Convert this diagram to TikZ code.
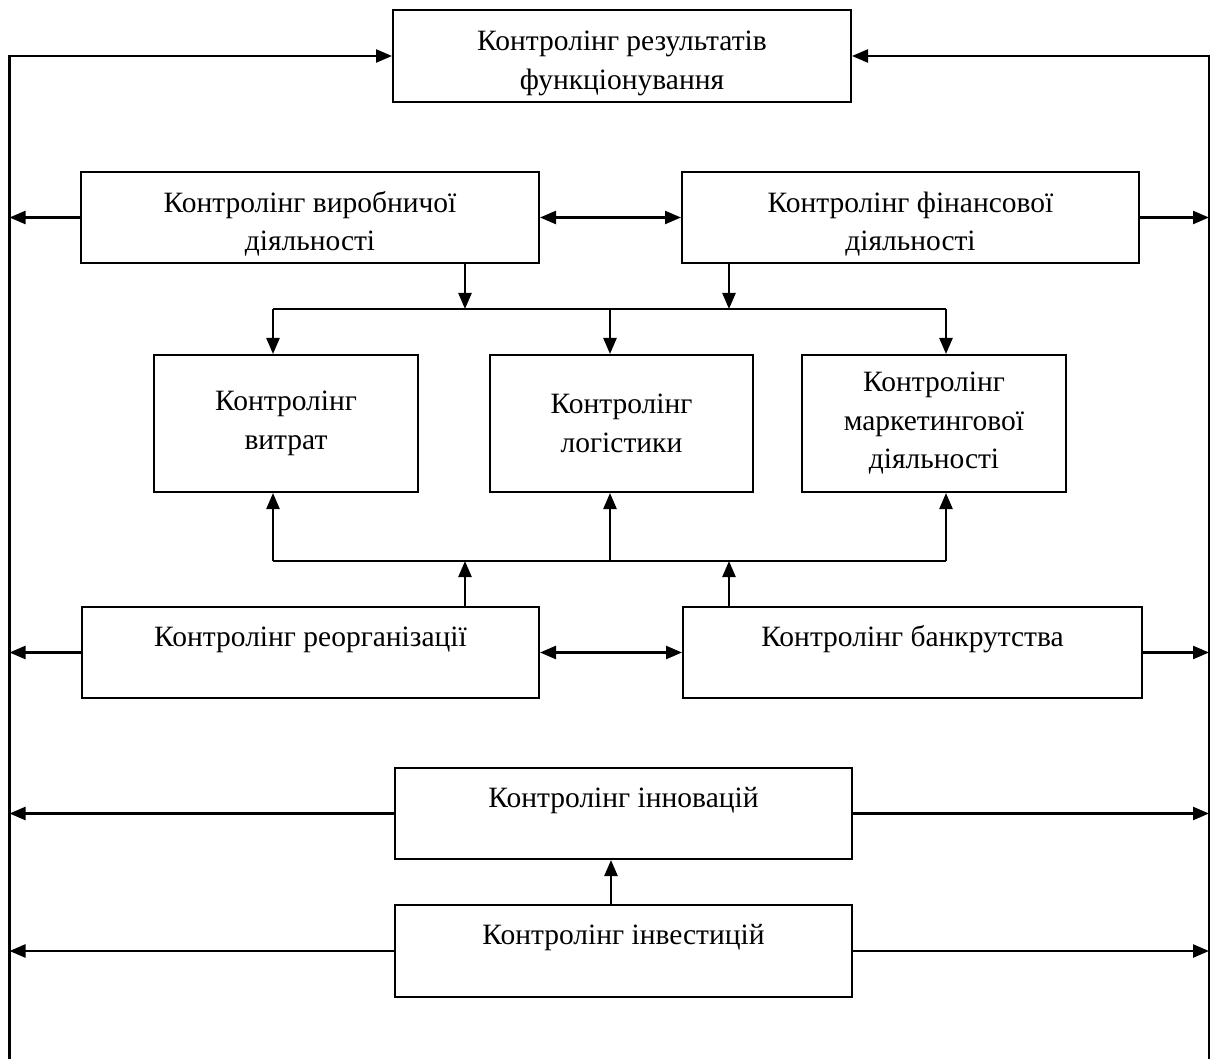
\documentclass[tikz,border=0pt]{standalone}
\usepackage{fontspec}
\setmainfont{Liberation Serif}
\usetikzlibrary{arrows.meta}
\newcommand{\lowstrut}{\rule{0pt}{34pt}}
\tikzset{
  txt/.style={font=\fontsize{29.5}{38.5}\selectfont},
  box/.style={draw, line width=2pt, inner sep=0pt, align=center, txt},
  onebox/.style={box, label={[txt, anchor=base, yshift=-40pt]north:#1}},
  conn/.style={line width=2.4pt},
  arr/.style={conn, -{Triangle[length=16pt,width=13pt]}},
  darr/.style={conn, {Triangle[length=16pt,width=13pt]}-{Triangle[length=16pt,width=13pt]}},
}
\begin{document}
\begin{tikzpicture}[x=1pt,y=-1pt]
\useasboundingbox (0,0) rectangle (1216,1059);
% boxes
\node[box, minimum width=458pt, minimum height=92pt] (res) at (622,56) {\lowstrut Контролінг результатів\\функціонування};
\node[box, minimum width=458pt, minimum height=91pt] (vyr) at (310,217.5) {\lowstrut Контролінг виробничої\\діяльності};
\node[box, minimum width=457pt, minimum height=91pt] (fin) at (910.5,217.5) {\lowstrut Контролінг фінансової\\діяльності};
\node[box, minimum width=264pt, minimum height=137pt] (vyt) at (286,423.5) {Контролінг\\витрат};
\node[box, minimum width=263pt, minimum height=137pt] (log) at (621.5,423.5) {Контролінг\\логістики};
\node[box, minimum width=264pt, minimum height=137pt] (mar) at (934,423.5) {Контролінг\\маркетингової\\діяльності};
\node[onebox={Контролінг реорганізації}, minimum width=457pt, minimum height=91pt] (reo) at (310.5,652.5) {};
\node[onebox={Контролінг банкрутства}, minimum width=459pt, minimum height=91pt] (bank) at (912.5,652.5) {};
\node[onebox={Контролінг інновацій}, minimum width=457pt, minimum height=91pt] (inn) at (623.5,813.5) {};
\node[onebox={Контролінг інвестицій}, minimum width=457pt, minimum height=92pt] (inv) at (623.5,951) {};
% side rails
\coordinate (lt) at (9.5,56);
\coordinate (lb) at (9.5,1059);
\coordinate (rt) at (1209,56);
\coordinate (rb) at (1209,1059);
\draw[arr] (lb) -- (lt) -- (res.west);
\draw[arr] (rb) -- (rt) -- (res.east);
% row 2
\draw[arr] (vyr.west) -- (vyr.west -| lt);
\draw[darr] (vyr.east) -- (fin.west);
\draw[arr] (fin.east) -- (fin.east -| rt);
% upper bus
\coordinate (a1) at (465,309);
\coordinate (a2) at (729,309);
\coordinate (u1) at (273,309);
\coordinate (u2) at (610,309);
\coordinate (u3) at (946,309);
\draw[arr] (a1 |- vyr.south) -- (a1);
\draw[arr] (a2 |- fin.south) -- (a2);
\draw[conn] (u1) -- (u3);
\draw[arr] (u1) -- (u1 |- vyt.north);
\draw[arr] (u2) -- (u2 |- log.north);
\draw[arr] (u3) -- (u3 |- mar.north);
% lower bus
\coordinate (b1) at (465,561);
\coordinate (b2) at (729,561);
\coordinate (d1) at (273,561);
\coordinate (d2) at (610,561);
\coordinate (d3) at (946,561);
\draw[conn] (d1) -- (d3);
\draw[arr] (d1) -- (d1 |- vyt.south);
\draw[arr] (d2) -- (d2 |- log.south);
\draw[arr] (d3) -- (d3 |- mar.south);
\draw[arr] (b1 |- reo.north) -- (b1);
\draw[arr] (b2 |- bank.north) -- (b2);
% row reo/bank
\draw[arr] (reo.west) -- (reo.west -| lt);
\draw[darr] (reo.east) -- (bank.west);
\draw[arr] (bank.east) -- (bank.east -| rt);
% innovations / investments
\draw[arr] (inn.west) -- (inn.west -| lt);
\draw[arr] (inn.east) -- (inn.east -| rt);
\draw[arr] (inv.west) -- (inv.west -| lt);
\draw[arr] (inv.east) -- (inv.east -| rt);
\coordinate (c) at (611,0);
\draw[arr] (c |- inv.north) -- (c |- inn.south);
\end{tikzpicture}
\end{document}
